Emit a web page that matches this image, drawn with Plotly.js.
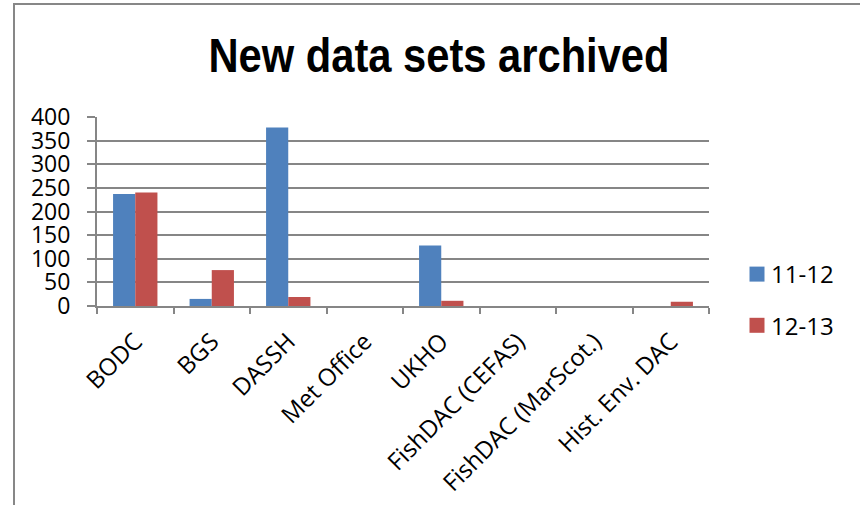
<!DOCTYPE html>
<html>
<head>
<meta charset="utf-8">
<script src="https://cdn.plot.ly/plotly-3.0.1.min.js"></script>
<style>html,body{margin:0;padding:0;background:#fff;}#chart{width:860px;height:505px;}</style>
</head>
<body>
<div id="chart"></div>
<script>
const categories = ["BODC", "BGS", "DASSH", "Met Office", "UKHO", "FishDAC (CEFAS)", "FishDAC (MarScot.)", "Hist. Env. DAC"];
const series1Name = "11-12";
const series1 = [237, 15, 378, 0, 128, 0, 0, 0];
const series2Name = "12-13";
const series2 = [240, 76, 19, 0, 11, 0, 0, 9];
const yTicks = [0, 50, 100, 150, 200, 250, 300, 350, 400];

const W = 860, H = 505;
const L = 97, R = 151, T = 117, B = 199;
const pw = W - L - R, ph = H - T - B;
const px = x => (x - L) / pw;
const py = y => (H - B - y) / ph;

const font = "Open Sans, Noto Sans, sans-serif";
const traces = [
  {type: "bar", name: series1Name, x: categories, y: series1, legendgroup: "a",
   marker: {color: "#4F81BD", line: {width: 0}}},
  {type: "bar", name: series2Name, x: categories, y: series2, legendgroup: "b",
   marker: {color: "#C0504D", line: {width: 0}}}
];
const layout = {
  width: W, height: H, autosize: false,
  margin: {l: L, r: R, t: T, b: B, pad: 0},
  paper_bgcolor: "#fff", plot_bgcolor: "#fff",
  font: {family: font, size: 24, color: "#000"},
  title: {text: "New data sets archived", x: 439 / W, xanchor: "center", y: 1 - 55 / H, yanchor: "middle",
          font: {family: "Liberation Sans, Arial, sans-serif", size: 48, weight: "bold", color: "#000"}},
  barmode: "group", bargap: 0.42, bargroupgap: 0,
  xaxis: {type: "category", tickson: "boundaries", ticks: "outside", ticklen: 6, tickcolor: "#868686", tickwidth: 2,
          showline: true, linecolor: "#868686", linewidth: 2, showgrid: false, tickangle: -45, ticklabelstandoff: 10,
          tickfont: {family: font, size: 24}, automargin: false, fixedrange: true},
  yaxis: {range: [0, 400], tickvals: yTicks, ticktext: yTicks.map(String), ticks: "outside", ticklen: 8,
          tickcolor: "#868686", tickwidth: 2, showline: true, linecolor: "#868686", linewidth: 2,
          showgrid: true, gridcolor: "#868686", gridwidth: 2, zeroline: false, ticklabelstandoff: 12,
          tickfont: {family: font, size: 23}, automargin: false, fixedrange: true},
  legend: {x: px(731), xanchor: "left", y: py(252), yanchor: "top", traceorder: "grouped", tracegroupgap: 17,
           font: {family: font, size: 24}, bgcolor: "rgba(0,0,0,0)"},
  shapes: [{type: "rect", xref: "paper", yref: "paper", x0: px(14), y0: py(520), x1: px(880), y1: py(4),
            line: {color: "#878787", width: 2}, fillcolor: "rgba(0,0,0,0)", layer: "below"}]
};
Plotly.newPlot("chart", traces, layout, {staticPlot: true, displayModeBar: false}).then(gd => {
  const t = gd.querySelector(".gtitle");
  if (t) {
    t.setAttribute("textLength", "461");
    t.setAttribute("lengthAdjust", "spacingAndGlyphs");
  }
  gd.querySelectorAll(".legend .legendpoints path").forEach(p => {
    p.setAttribute("d", "M13.5,7.5H-1.5V-7.5H13.5Z");
  });
});
</script>
</body>
</html>
